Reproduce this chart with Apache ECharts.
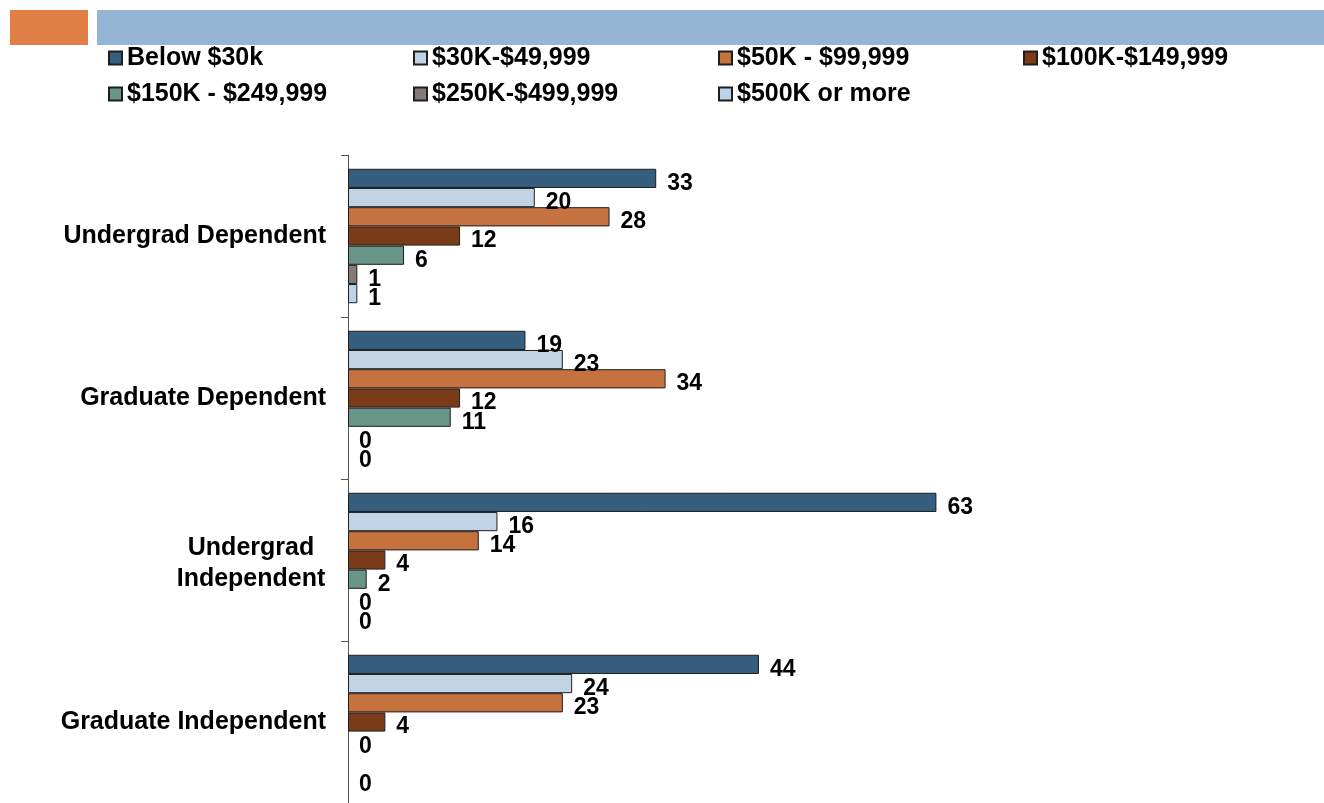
<!DOCTYPE html>
<html>
<head>
<meta charset="utf-8">
<script src="https://cdn.jsdelivr.net/npm/echarts@6/dist/echarts.min.js"></script>
<style>
  html, body { margin: 0; padding: 0; background: #ffffff; }
  #chart { width: 1324px; height: 803px; }
</style>
</head>
<body>
<div id="chart"></div>
<script>
// Student groups (top to bottom)
const categories = ['Undergrad Dependent', 'Graduate Dependent', 'Undergrad\nIndependent', 'Graduate Independent'];

// Income brackets (legend order)
const incomeBrackets = ['Below $30k', '$30K-$49,999', '$50K - $99,999', '$100K-$149,999',
                        '$150K - $249,999', '$250K-$499,999', '$500K or more'];

// Percent of students in each bracket, per group
const below30k   = [33, 19, 63, 44];
const from30k    = [20, 23, 16, 24];
const from50k    = [28, 34, 14, 23];
const from100k   = [12, 12, 4, 4];
const from150k   = [6, 11, 2, 0];
const from250k   = [1, 0, 0, null];
const from500k   = [1, 0, 0, 0];

const seriesValues = [below30k, from30k, from50k, from100k, from150k, from250k, from500k];
const bracketColors = ['#365E7E', '#C1D4E6', '#C6723E', '#7A3B18', '#6A9589', '#857A78', '#BDD3E8'];

const FONT = '"Liberation Sans", Arial, Helvetica, sans-serif';

// zero-length bars get no outline so only their value label shows
function barData(values) {
  return values.map(function (v) {
    return v === 0 ? { value: 0, itemStyle: { borderWidth: 0 } } : v;
  });
}

const chart = echarts.init(document.getElementById('chart'), null, { renderer: 'canvas' });

chart.setOption({
  animation: false,
  backgroundColor: '#ffffff',
  graphic: [
    { type: 'rect', left: 10, top: 10, shape: { width: 78, height: 35 }, style: { fill: '#E07F45' }, z: 0 },
    { type: 'rect', left: 97, top: 10, shape: { width: 1227, height: 35 }, style: { fill: '#94B5D4' }, z: 0 }
  ],
  legend: {
    data: incomeBrackets,
    left: 103,
    top: 35,
    width: 1240,
    orient: 'horizontal',
    icon: 'rect',
    itemWidth: 13,
    itemHeight: 13,
    itemGap: 0,
    selectedMode: false,
    textStyle: {
      fontFamily: FONT,
      fontWeight: 'bold',
      fontSize: 25,
      color: '#000000',
      width: 286,
      lineHeight: 36
    }
  },
  grid: {
    left: 348,
    right: 42,
    top: 155,
    bottom: 0,
    containLabel: false
  },
  xAxis: {
    type: 'value',
    min: 0,
    max: 100,
    show: false
  },
  yAxis: {
    type: 'category',
    data: categories,
    inverse: true,
    axisLine: { show: true, lineStyle: { color: '#555555', width: 1 } },
    axisTick: { show: true, length: 7, lineStyle: { color: '#555555' } },
    axisLabel: {
      margin: 22,
      fontFamily: FONT,
      fontWeight: 'bold',
      fontSize: 25,
      color: '#000000',
      formatter: function (v) {
        const lines = v.split('\n');
        return lines.length > 1 ? '{first|' + lines[0] + '}\n{second|' + lines[1] + '}' : v;
      },
      rich: {
        first: {
          fontFamily: FONT, fontWeight: 'bold', fontSize: 25, color: '#000000',
          width: 150, align: 'center', lineHeight: 31, padding: [7, 0, 0, 0]
        },
        second: {
          fontFamily: FONT, fontWeight: 'bold', fontSize: 25, color: '#000000',
          width: 150, align: 'center', lineHeight: 31, padding: [8, 0, 0, 0]
        }
      }
    }
  },
  series: incomeBrackets.map(function (name, i) {
    return {
      name: name,
      type: 'bar',
      data: barData(seriesValues[i]),
      barGap: '0%',
      barCategoryGap: '17%',
      itemStyle: {
        color: bracketColors[i],
        borderColor: '#1e1e1e',
        borderWidth: 1
      },
      label: {
        show: true,
        position: 'right',
        distance: 11,
        offset: [0, 5],
        fontFamily: FONT,
        fontWeight: 'bold',
        fontSize: 23,
        color: '#000000'
      }
    };
  })
});
</script>
</body>
</html>
